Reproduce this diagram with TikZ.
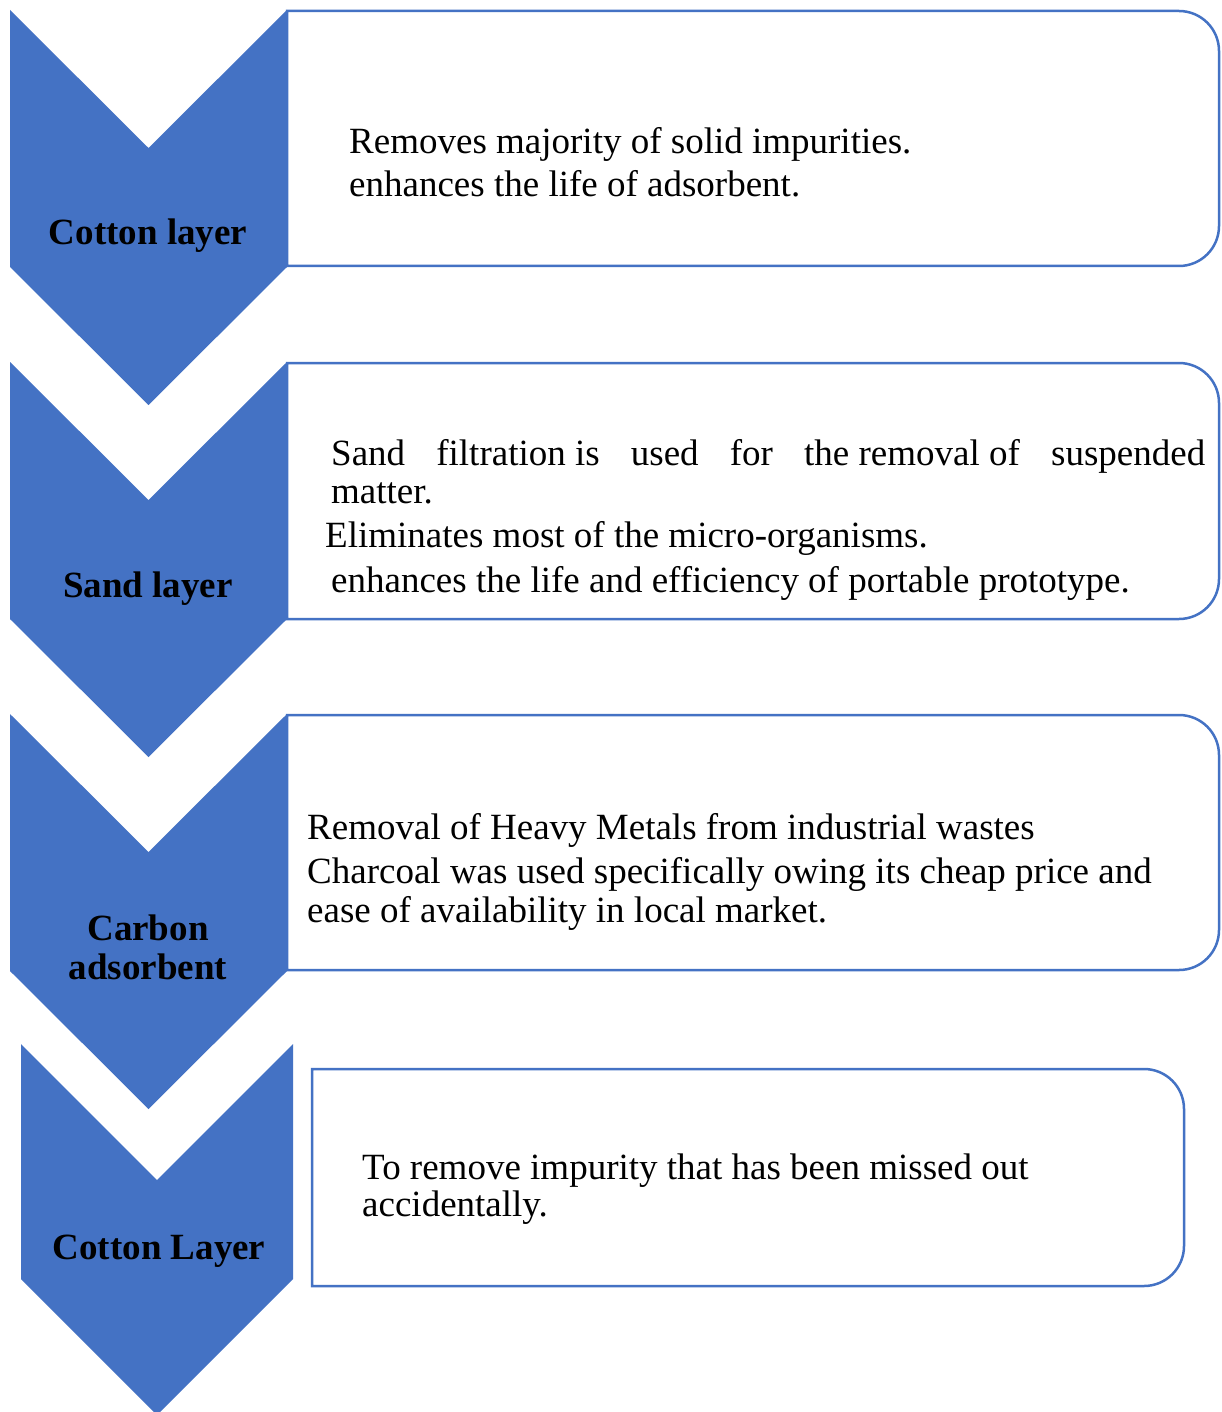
\documentclass[tikz,border=0pt]{standalone}
\usepackage{fontspec}
\setmainfont{Liberation Serif}
\definecolor{cblue}{HTML}{4472C4}
\newcommand\mychev[6]{% left, right, top, depth, sidebottom
  \fill[cblue] (#1,#3) -- ({(#1+#2)/2},{#3+#4}) -- (#2,#3) -- (#2,#5) -- ({(#1+#2)/2},{#5+#6}) -- (#1,#5) -- cycle;}
\newcommand\mybox[4]{% left, top, right, bottom
  \draw[boxline] ({#3-120},#2) -- (#1,#2) -- (#1,#4) -- ({#3-120},#4) [rounded corners=40pt] -- (#3,#4) -- (#3,#2) -- cycle;}
\begin{document}
\begin{tikzpicture}[x=1pt,y=-1pt,
  boxline/.style={draw=cblue,line width=2.5pt},
  body/.style={anchor=base west,inner sep=0pt,font=\fontsize{37}{44}\selectfont},
  lab/.style={anchor=base,inner sep=0pt,font=\fontsize{37}{39}\selectfont\bfseries,align=center}]
\useasboundingbox (0,0) rectangle (1222,1412);
\fill[white] (0,0) rectangle (1222,1412);
% boxes
\mybox{287}{11}{1219}{266}
\mybox{287}{363}{1219}{619}
\mybox{287}{715}{1219}{970}
\mybox{312}{1069}{1184}{1286}
% chevrons
\mychev{10}{287}{10}{138}{267}{138}
\mychev{10}{287}{362}{138}{619}{138}
\mychev{10}{287}{714}{138}{971}{138}
\mychev{21}{293}{1044}{136}{1279}{136}
% labels
\node[lab] (l1) at (148,245) {Cotton layer};
\node[lab] (l2) at (148,597) {Sand layer};
\node[lab] (l3a) at (148,940) {Carbon};
\node[lab] (l3b) at (148,979) {adsorbent};
\node[lab] (l4) at (159,1259) {Cotton Layer};
% box texts
\node[body] (t1a) at (349,154) {Removes majority of solid impurities.};
\node[body] (t1b) at (349,197) {enhances the life of adsorbent.};
\node[body] (t2a) at (331,465) {\makebox[874pt][s]{Sand\hfill filtration is\hfill used\hfill for\hfill the removal of\hfill suspended}};
\node[body] (t2b) at (331,503) {matter.};
\node[body] (t2c) at (325,547) {Eliminates most of the micro-organisms.};
\node[body] (t2d) at (331,592) {enhances the life and efficiency of portable prototype.};
\node[body] (t3a) at (307,839) {Removal of Heavy Metals from industrial wastes};
\node[body] (t3b) at (307,883) {Charcoal was used specifically owing its cheap price and};
\node[body] (t3c) at (307,922) {ease of availability in local market.};
\node[body] (t4a) at (362,1179) {To remove impurity that has been missed out};
\node[body] (t4b) at (362,1216) {accidentally.};
\end{tikzpicture}
\end{document}
